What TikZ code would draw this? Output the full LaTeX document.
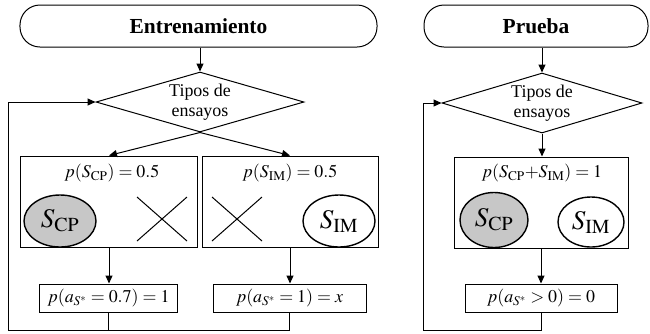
\documentclass[tikz,border=0pt]{standalone}
\usepackage{mathptmx}
\usepackage{fontspec}
\setmainfont{Liberation Serif}
\usetikzlibrary{arrows.meta,shapes.geometric}
\begin{document}
\begin{tikzpicture}[x=1bp,y=-1bp,line width=1bp,
  term/.style={draw,rounded corners=20bp,minimum width=#1,minimum height=42bp,inner sep=0pt,font=\fontsize{21.5}{24}\selectfont\bfseries},
  dec/.style={draw,diamond,aspect=3.47,minimum width=208bp,minimum height=60bp,inner sep=0pt,align=center,font=\fontsize{18}{20}\selectfont},
  bigbox/.style={draw,rectangle,minimum width=#1,minimum height=91bp,inner sep=0pt},
  smallbox/.style={draw,rectangle,minimum width=#1,minimum height=28bp,inner sep=0pt,font=\fontsize{18}{20}\selectfont},
  lbl/.style={inner sep=0pt,font=\fontsize{18}{20}\selectfont},
  stim/.style={draw,ellipse,line width=1.4bp,minimum width=#1,minimum height=52bp,inner sep=0pt,font=\fontsize{27}{29}\selectfont},
  arr/.style={-{Triangle[length=8bp,width=7bp]}}
]
\useasboundingbox (0,0) rectangle (650,333);
% ---------- Entrenamiento ----------
\node[term=357bp] (tL) at (198.5,26) {Entrenamiento};
\node[dec] (dL) at (200,102) {Tipos de\\ensayos};
\node[bigbox=176bp] (b1) at (109,201.5) {};
\node[bigbox=176bp] (b2) at (290,201.5) {};
\node[lbl] (l1) at (112,173) {$p(S_{\mathrm{CP}}) = 0.5$};
\node[lbl] (l2) at (290,173) {$p(S_{\mathrm{IM}}) = 0.5$};
\node[stim=72bp,fill=black!22] (e1) at (60,221) {$S_{\mathrm{CP}}$};
\node[stim=72bp] (e2) at (339,221) {$S_{\mathrm{IM}}$};
\draw (137,197) -- (187,241) (137,241) -- (187,197);
\draw (212,197) -- (262,241) (212,241) -- (262,197);
\node[smallbox=137bp] (bb1) at (108.5,298) {$p(a_{S^*} = 0.7) = 1$};
\node[smallbox=153bp] (bb2) at (289.5,298) {$p(a_{S^*} = 1) = x$};
\coordinate (loopL) at (8,330);
\draw[arr] (dL.north |- tL.south) -- (dL.north);
\draw[arr] (dL.south) -- (b1.north);
\draw[arr] (dL.south) -- (b2.north);
\draw[arr] (b1.south) -- (b1.south |- bb1.north);
\draw[arr] (b2.south) -- (b2.south |- bb2.north);
\draw (bb1.south) -- (bb1.south |- loopL);
\draw[arr] (bb2.south) -- (bb2.south |- loopL) -- (loopL) |- (dL.west);
% ---------- Prueba ----------
\node[term=224bp] (tR) at (536,26) {Prueba};
\node[dec,minimum width=200bp,aspect=3.33] (dR) at (542,103) {Tipos de\\ensayos};
\node[bigbox=174bp] (bR) at (541,202.5) {};
\node[lbl] (lR) at (542,173) {$p(S_{\mathrm{CP}}{+}S_{\mathrm{IM}}) = 1$};
\node[stim=68bp,minimum height=55bp,fill=black!22] (e3) at (494,220) {$S_{\mathrm{CP}}$};
\node[stim=66bp,minimum height=50bp] (e4) at (591,222) {$S_{\mathrm{IM}}$};
\node[smallbox=152bp] (bbR) at (541,298) {$p(a_{S^*} > 0) = 0$};
\coordinate (loopR) at (423,330);
\draw[arr] (dR.north |- tR.south) -- (dR.north);
\draw[arr] (dR.south) -- (dR.south |- bR.north);
\draw[arr] (bR.south) -- (bR.south |- bbR.north);
\draw[arr] (bbR.south) -- (bbR.south |- loopR) -- (loopR) |- (dR.west);
\end{tikzpicture}
\end{document}
